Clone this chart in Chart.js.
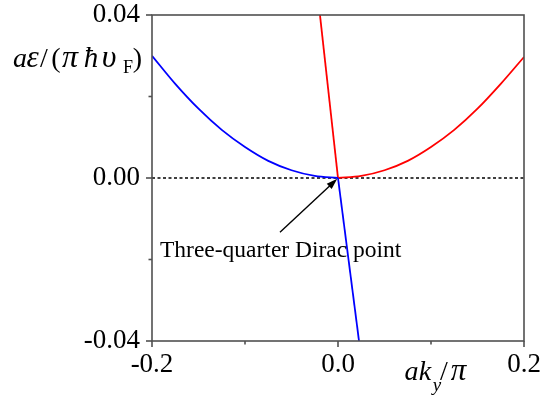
<!DOCTYPE html>
<html>
<head>
<meta charset="utf-8">
<script src="https://cdn.jsdelivr.net/npm/chart.js@4/dist/chart.umd.min.js"></script>
<style>
html,body{margin:0;padding:0;background:#fff;}
#wrap{width:552px;height:400px;position:relative;}
</style>
</head>
<body>
<div id="wrap"><canvas id="c" width="552" height="400"></canvas></div>
<script>
// ---- data ----
const xMin = -0.2, xMax = 0.2, yMin = -0.04, yMax = 0.04;
const xTickValues = [-0.2, -0.1, 0.0, 0.1, 0.2];
const xTickLabels = ['-0.2', '', '0.0', '', '0.2'];
const yTickValues = [-0.04, -0.02, 0.0, 0.02, 0.04];
const yTickLabels = ['-0.04', '', '0.00', '', '0.04'];

const blueCurveX = [-0.2, -0.175, -0.15, -0.125, -0.1, -0.075, -0.05, -0.025, 0.0];
const blueCurveY = [0.0300, 0.0231, 0.0170, 0.0118, 0.0076, 0.0042, 0.0019, 0.0005, 0.0];
const blueLineX = [0.0, 0.0226];
const blueLineY = [0.0, -0.04];
const redLineX = [-0.0194, 0.0];
const redLineY = [0.04, 0.0];
const redCurveX = [0.0, 0.025, 0.05, 0.075, 0.1, 0.125, 0.15, 0.175, 0.2];
const redCurveY = [0.0, 0.0005, 0.0019, 0.0042, 0.0076, 0.0118, 0.0170, 0.0231, 0.0297];
const zeroLineX = [-0.2, 0.2];
const zeroLineY = [0.0, 0.0];

const annotationText = 'Three-quarter Dirac point';
const arrowTail = {x: -0.0624, y: -0.0133};
const arrowTip = {x: -0.0008, y: -0.0002};
const annotationPos = {x: -0.1914, y: -0.0195};

const pts = (xs, ys) => xs.map((x, i) => ({x: x, y: ys[i]}));
const SERIF = "'Liberation Serif', 'Times New Roman', serif";
const AXIS = '#505050';

const framePlugin = {
  id: 'frame',
  afterDraw(chart) {
    const ctx = chart.ctx, a = chart.chartArea;
    const xs = chart.scales.x, ys = chart.scales.y;
    ctx.save();
    ctx.strokeStyle = AXIS;
    ctx.lineWidth = 1.6;
    ctx.strokeRect(a.left, a.top, a.right - a.left, a.bottom - a.top);
    xTickValues.forEach((v, i) => {
      const px = xs.getPixelForValue(v);
      const len = xTickLabels[i] ? 6 : 3.5;
      ctx.beginPath(); ctx.moveTo(px, a.bottom); ctx.lineTo(px, a.bottom + len); ctx.stroke();
    });
    yTickValues.forEach((v, i) => {
      const py = ys.getPixelForValue(v);
      const len = yTickLabels[i] ? 6 : 3.5;
      ctx.beginPath(); ctx.moveTo(a.left, py); ctx.lineTo(a.left - len, py); ctx.stroke();
    });
    ctx.restore();

    // annotation arrow
    ctx.save();
    const tx = xs.getPixelForValue(arrowTail.x), ty = ys.getPixelForValue(arrowTail.y);
    const hx = xs.getPixelForValue(arrowTip.x), hy = ys.getPixelForValue(arrowTip.y);
    const ang = Math.atan2(hy - ty, hx - tx);
    const hl = 11, hw = 3.6;
    ctx.strokeStyle = '#000'; ctx.fillStyle = '#000'; ctx.lineWidth = 1.4;
    ctx.beginPath(); ctx.moveTo(tx, ty);
    ctx.lineTo(hx - (hl - 2) * Math.cos(ang), hy - (hl - 2) * Math.sin(ang)); ctx.stroke();
    ctx.beginPath();
    ctx.moveTo(hx, hy);
    ctx.lineTo(hx - hl * Math.cos(ang) + hw * Math.sin(ang), hy - hl * Math.sin(ang) - hw * Math.cos(ang));
    ctx.lineTo(hx - hl * Math.cos(ang) - hw * Math.sin(ang), hy - hl * Math.sin(ang) + hw * Math.cos(ang));
    ctx.closePath(); ctx.fill();
    ctx.font = '23.5px ' + SERIF;
    ctx.textBaseline = 'alphabetic'; ctx.textAlign = 'left';
    ctx.fillText(annotationText, xs.getPixelForValue(annotationPos.x), ys.getPixelForValue(annotationPos.y));
    ctx.restore();

    // axis titles (glyphs centred where the reference places them)
    ctx.save();
    ctx.fillStyle = '#000';
    ctx.textBaseline = 'alphabetic'; ctx.textAlign = 'center';
    const it = s => 'italic ' + s + 'px ' + SERIF;
    const rg = s => s + 'px ' + SERIF;
    const put = (txt, font, cx, py) => { ctx.font = font; ctx.fillText(txt, cx, py); };
    // y title: aε/(πħυ_F)
    put('a', it(28), 20, 67); put('ε', it(31), 32.5, 67); put('/', rg(28), 44, 67); put('(', rg(28), 56, 67);
    put('π', it(32), 70, 67); put('ħ', it(29), 91, 67); put('υ', it(32), 109, 67);
    put('F', rg(18), 128, 73); put(')', rg(28), 137.5, 67);
    // x title: ak_y/π
    put('a', it(28), 411.5, 380); put('k', it(28), 425, 380); put('y', it(19), 437, 391);
    put('/', rg(28), 444, 380); put('π', it(31), 458.5, 380);
    ctx.restore();
  }
};

new Chart(document.getElementById('c'), {
  type: 'scatter',
  data: {
    datasets: [
      {data: pts(zeroLineX, zeroLineY), showLine: true, borderColor: '#000', borderWidth: 1.3, borderDash: [3, 2.5], pointRadius: 0, order: 5},
      {data: pts(blueCurveX, blueCurveY), showLine: true, borderColor: '#0000ff', borderWidth: 1.8, pointRadius: 0, cubicInterpolationMode: 'monotone', order: 1},
      {data: pts(blueLineX, blueLineY), showLine: true, borderColor: '#0000ff', borderWidth: 1.8, pointRadius: 0, order: 1},
      {data: pts(redLineX, redLineY), showLine: true, borderColor: '#ff0000', borderWidth: 1.8, pointRadius: 0, order: 2},
      {data: pts(redCurveX, redCurveY), showLine: true, borderColor: '#ff0000', borderWidth: 1.8, pointRadius: 0, cubicInterpolationMode: 'monotone', order: 2}
    ]
  },
  options: {
    responsive: false,
    animation: false,
    events: [],
    layout: {padding: {left: 0, right: 28, top: 15, bottom: 0}},
    plugins: {legend: {display: false}, tooltip: {enabled: false}},
    scales: {
      x: {
        type: 'linear', min: xMin, max: xMax,
        afterBuildTicks: s => { s.ticks = xTickValues.map(v => ({value: v})); },
        afterFit: s => { s.height = 59; s.paddingLeft = 0; s.paddingRight = 0; },
        grid: {display: false, drawTicks: false},
        border: {display: false},
        ticks: {padding: 8, color: '#000', font: {family: SERIF, size: 27}, maxRotation: 0,
                callback: (v, i) => xTickLabels[i]}
      },
      y: {
        type: 'linear', min: yMin, max: yMax,
        afterBuildTicks: s => { s.ticks = yTickValues.map(v => ({value: v})); },
        afterFit: s => { s.width = 152; s.paddingTop = 0; s.paddingBottom = 0; },
        grid: {display: false, drawTicks: false},
        border: {display: false},
        ticks: {padding: 12, color: '#000', font: {family: SERIF, size: 27},
                callback: (v, i) => yTickLabels[i]}
      }
    }
  },
  plugins: [framePlugin]
});
</script>
</body>
</html>
